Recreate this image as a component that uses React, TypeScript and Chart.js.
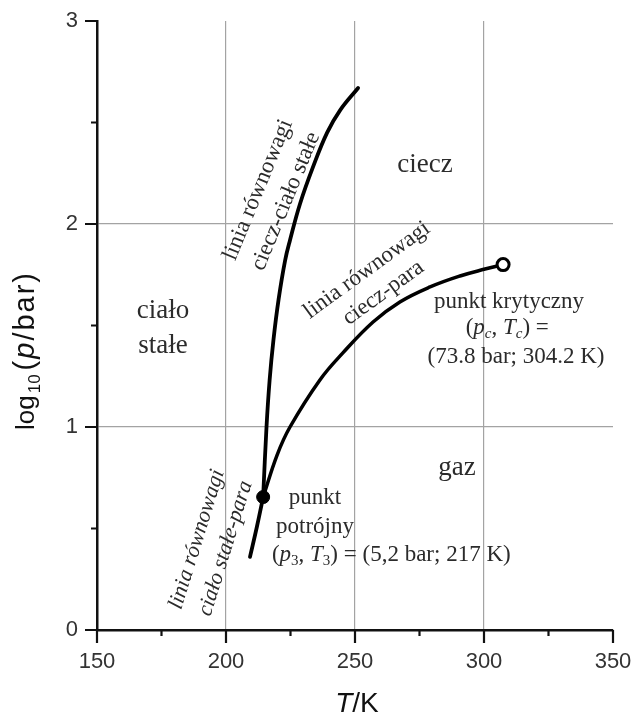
import React, { useEffect, useRef } from "react";
import { Chart, registerables } from "chart.js";

Chart.register(...registerables);

// ---- data (T in K, log10(p/bar)) ----
const xTicks = [150, 200, 250, 300, 350];
const yTicks = [0, 1, 2, 3];
const xMinorTicks = [175, 225, 275, 325];
const yMinorTicks = [0.5, 1.5, 2.5];

const sublimationT = [209.3, 212.0, 214.4];
const sublimationLogP = [0.36, 0.51, 0.655];

const meltingT = [214.4, 215.7, 216.9, 218.4, 220.4, 222.9, 224.8, 228.7, 233.7, 239.2, 244.2, 251.2];
const meltingLogP = [0.655, 1.0, 1.23, 1.43, 1.63, 1.82, 1.92, 2.1, 2.28, 2.45, 2.56, 2.67];

const vaporT = [214.4, 219.8, 224.8, 236.4, 245.3, 257.0, 267.4, 279.1, 290.7, 300.4, 307.4];
const vaporLogP = [0.655, 0.862, 1.0, 1.232, 1.365, 1.517, 1.616, 1.69, 1.744, 1.778, 1.8];

const triplePoint = { T: 214.4, logP: 0.655 };
const criticalPoint = { T: 307.4, logP: 1.8 };

const toXY = (xs: number[], ys: number[]) => xs.map((x, i) => ({ x, y: ys[i] }));

type Seg = { t: string; it?: boolean; sub?: boolean };

const SERIF = '"Liberation Serif", "Times New Roman", serif';
const SANS = '"Liberation Sans", Arial, sans-serif';
const TEXT = "#2b2b2b";

function drawRich(
  ctx: CanvasRenderingContext2D,
  segs: Seg[],
  x: number,
  y: number,
  size: number,
  family: string,
  align: "left" | "center"
) {
  const fontFor = (s: Seg) => `${s.it ? "italic " : ""}${s.sub ? Math.round(size * 0.65) : size}px ${family}`;
  let w = 0;
  for (const s of segs) {
    ctx.font = fontFor(s);
    w += ctx.measureText(s.t).width;
  }
  let cx = align === "center" ? x - w / 2 : x;
  ctx.textAlign = "left";
  ctx.textBaseline = "middle";
  for (const s of segs) {
    ctx.font = fontFor(s);
    ctx.fillText(s.t, cx, s.sub ? y + size * 0.25 : y);
    cx += ctx.measureText(s.t).width;
  }
}

function drawRotBlock(
  ctx: CanvasRenderingContext2D,
  cx: number,
  cy: number,
  angleDeg: number,
  lines: string[],
  spacing: number,
  font: string
) {
  ctx.save();
  ctx.translate(cx, cy);
  ctx.rotate((angleDeg * Math.PI) / 180);
  ctx.font = font;
  ctx.textAlign = "center";
  ctx.textBaseline = "middle";
  lines.forEach((l, i) => {
    ctx.fillText(l, 0, (i - (lines.length - 1) / 2) * spacing);
  });
  ctx.restore();
}

const decorPlugin = {
  id: "decor",
  afterDraw(chart: any) {
    const ctx: CanvasRenderingContext2D = chart.ctx;
    const xs = chart.scales.x;
    const ys = chart.scales.y;
    const area = chart.chartArea;
    const px = (v: number) => xs.getPixelForValue(v);
    const py = (v: number) => ys.getPixelForValue(v);

    ctx.save();
    // tick marks
    ctx.strokeStyle = "#111";
    ctx.lineWidth = 2.2;
    ctx.beginPath();
    xTicks.forEach((v) => {
      ctx.moveTo(px(v), area.bottom);
      ctx.lineTo(px(v), area.bottom + 13);
    });
    xMinorTicks.forEach((v) => {
      ctx.moveTo(px(v), area.bottom);
      ctx.lineTo(px(v), area.bottom + 6);
    });
    yTicks.forEach((v) => {
      ctx.moveTo(area.left, py(v));
      ctx.lineTo(area.left - 12, py(v));
    });
    yMinorTicks.forEach((v) => {
      ctx.moveTo(area.left, py(v));
      ctx.lineTo(area.left - 6, py(v));
    });
    ctx.stroke();

    // axis titles
    ctx.fillStyle = "#111";
    drawRich(ctx, [{ t: "T", it: true }, { t: "/K" }], (area.left + area.right) / 2 + 2, area.bottom + 74, 28, SANS, "center");
    ctx.save();
    ctx.translate(34, area.bottom - 200);
    ctx.rotate(-Math.PI / 2);
    ctx.textAlign = "left";
    ctx.textBaseline = "alphabetic";
    ctx.font = `26px ${SANS}`;
    ctx.fillText("log", 0, 0);
    let off = ctx.measureText("log").width + 2;
    ctx.font = `17px ${SANS}`;
    ctx.fillText("10", off, 6);
    off += ctx.measureText("10").width + 4;
    (ctx as any).letterSpacing = "2px";
    ctx.font = `29px ${SANS}`;
    ctx.fillText("(", off, 0);
    off += ctx.measureText("(").width;
    ctx.font = `italic 29px ${SANS}`;
    ctx.fillText("p", off, 0);
    off += ctx.measureText("p").width;
    ctx.font = `29px ${SANS}`;
    ctx.fillText("/bar)", off, 0);
    (ctx as any).letterSpacing = "0px";
    ctx.restore();

    // annotations
    ctx.fillStyle = TEXT;
    const regionFont = 27;
    drawRich(ctx, [{ t: "ciecz" }], px(277.1), py(2.29), regionFont, SERIF, "center");
    drawRich(ctx, [{ t: "gaz" }], px(289.5), py(0.8), regionFont, SERIF, "center");
    drawRich(ctx, [{ t: "ciało" }], px(175.6), py(1.57), regionFont, SERIF, "center");
    drawRich(ctx, [{ t: "stałe" }], px(175.6), py(1.4), regionFont, SERIF, "center");

    const ptFont = 23;
    drawRich(ctx, [{ t: "punkt" }], px(234.5), py(0.65), ptFont, SERIF, "center");
    drawRich(ctx, [{ t: "potrójny" }], px(234.5), py(0.507), ptFont, SERIF, "center");
    drawRich(
      ctx,
      [
        { t: "(" },
        { t: "p", it: true },
        { t: "3", sub: true },
        { t: ", " },
        { t: "T", it: true },
        { t: "3", sub: true },
        { t: ") = (5,2 bar; 217 K)" },
      ],
      px(217.8),
      py(0.37),
      ptFont,
      SERIF,
      "left"
    );

    drawRich(ctx, [{ t: "punkt krytyczny" }], px(309.7), py(1.616), ptFont, SERIF, "center");
    drawRich(
      ctx,
      [
        { t: "(" },
        { t: "p", it: true },
        { t: "c", sub: true, it: true },
        { t: ", " },
        { t: "T", it: true },
        { t: "c", sub: true, it: true },
        { t: ") =" },
      ],
      px(309.0),
      py(1.488),
      ptFont,
      SERIF,
      "center"
    );
    drawRich(ctx, [{ t: "(73.8 bar; 304.2 K)" }], px(312.4), py(1.345), ptFont, SERIF, "center");

    // rotated line labels
    drawRotBlock(ctx, px(217.8), py(2.14), -67.5, ["linia równowagi", "ciecz-ciało stałe"], 30, `23px ${SERIF}`);
    drawRotBlock(ctx, px(257.8), py(1.717), -36, ["linia równowagi", "ciecz-para"], 28, `23px ${SERIF}`);
    drawRotBlock(ctx, px(194.3), py(0.424), -72.7, ["linia równowagi", "ciało stałe-para"], 30, `italic 22px ${SERIF}`);

    ctx.restore();
  },
};

export default function App() {
  const ref = useRef<HTMLCanvasElement | null>(null);

  useEffect(() => {
    if (!ref.current) return;
    const gridX = xTicks.slice(1, -1);
    const gridY = yTicks.slice(1, -1);
    const lineStyle = {
      showLine: true,
      borderColor: "#000",
      pointRadius: 0,
      tension: 0.4,
      fill: false,
      borderCapStyle: "round",
      borderJoinStyle: "round",
    };
    const chart = new Chart(ref.current, {
      type: "scatter",
      data: {
        datasets: [
          {
            label: "punkt krytyczny",
            data: [{ x: criticalPoint.T, y: criticalPoint.logP }],
            pointRadius: 6,
            pointBackgroundColor: "#fff",
            pointBorderColor: "#000",
            pointBorderWidth: 3,
            showLine: false,
          },
          {
            label: "punkt potrójny",
            data: [{ x: triplePoint.T, y: triplePoint.logP }],
            pointRadius: 6.5,
            pointBackgroundColor: "#000",
            pointBorderColor: "#000",
            pointBorderWidth: 1,
            showLine: false,
          },
          { label: "ciecz-para", data: toXY(vaporT, vaporLogP), borderWidth: 3.5, ...lineStyle },
          { label: "ciecz-ciało stałe", data: toXY(meltingT, meltingLogP), borderWidth: 3.8, ...lineStyle },
          { label: "ciało stałe-para", data: toXY(sublimationT, sublimationLogP), borderWidth: 3.8, ...lineStyle },
        ],
      },
      options: {
        responsive: false,
        animation: false,
        devicePixelRatio: 1,
        layout: { padding: { top: 21, right: 21, left: 0, bottom: 0 } },
        plugins: { legend: { display: false }, tooltip: { enabled: false } },
        scales: {
          x: {
            type: "linear",
            min: 150,
            max: 350,
            afterBuildTicks: (s: any) => {
              s.ticks = xTicks.map((v) => ({ value: v }));
            },
            ticks: {
              autoSkip: false,
              maxRotation: 0,
              padding: 19,
              color: "#333",
              font: { family: "Liberation Sans", size: 22 },
            },
            grid: {
              drawTicks: false,
              color: (c: any) => (c.tick && gridX.includes(c.tick.value) ? "#a3a3a3" : "rgba(0,0,0,0)"),
              lineWidth: 1.2,
            },
            border: { display: true, color: "#111", width: 2.5 },
            afterFit: (s: any) => {
              s.height = 93;
              s.paddingLeft = 0;
              s.paddingRight = 0;
            },
          },
          y: {
            type: "linear",
            min: 0,
            max: 3,
            afterBuildTicks: (s: any) => {
              s.ticks = yTicks.map((v) => ({ value: v }));
            },
            ticks: {
              autoSkip: false,
              padding: 19,
              color: "#333",
              font: { family: "Liberation Sans", size: 22 },
            },
            grid: {
              drawTicks: false,
              color: (c: any) => (c.tick && gridY.includes(c.tick.value) ? "#a3a3a3" : "rgba(0,0,0,0)"),
              lineWidth: 1.2,
            },
            border: { display: true, color: "#111", width: 2.5 },
            afterFit: (s: any) => {
              s.width = 97;
              s.paddingTop = 0;
              s.paddingBottom = 0;
            },
          },
        },
      },
      plugins: [decorPlugin],
    } as any);
    return () => chart.destroy();
  }, []);

  return (
    <div style={{ position: "absolute", left: 0, top: 0, width: 634, height: 723, background: "#fff" }}>
      <canvas ref={ref} width={634} height={723} style={{ width: 634, height: 723, display: "block" }} />
    </div>
  );
}
